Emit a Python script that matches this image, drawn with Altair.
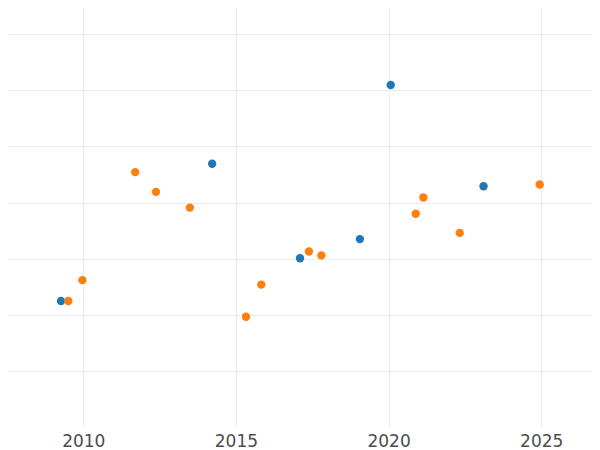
import altair as alt
import pandas as pd

blue_year = [2009.27, 2014.22, 2017.10, 2019.06, 2020.07, 2023.11]
blue_value = [2.25, 4.69, 3.01, 3.35, 6.09, 4.29]

orange_year = [2009.51, 2009.97, 2011.70, 2012.38, 2013.49, 2015.33, 2015.83,
               2017.39, 2017.80, 2020.89, 2021.14, 2022.33, 2024.95]
orange_value = [2.25, 2.62, 4.54, 4.19, 3.91, 1.97, 2.54,
                3.13, 3.06, 3.80, 4.09, 3.46, 4.32]

x_ticks = [2010, 2015, 2020, 2025]
y_grid = [1, 2, 3, 4, 5, 6, 7]

df = pd.concat([
    pd.DataFrame({"year": blue_year, "value": blue_value, "group": "A", "order": 0}),
    pd.DataFrame({"year": orange_year, "value": orange_value, "group": "B", "order": 1}),
], ignore_index=True)

chart = alt.Chart(df).mark_circle(size=70, opacity=1).encode(
    x=alt.X("year:Q",
            scale=alt.Scale(domain=[2007.272, 2026.663], nice=False, zero=False),
            axis=alt.Axis(values=x_ticks, format="d", title=None, ticks=False,
                          domain=False, grid=True, gridColor="#ebebeb", gridWidth=1.2,
                          labelFont="DejaVu Sans", labelFontSize=17,
                          labelColor="#4d4d4d", labelPadding=6)),
    y=alt.Y("value:Q",
            scale=alt.Scale(domain=[0.01, 7.6], nice=False, zero=False),
            axis=alt.Axis(values=y_grid, labels=False, ticks=False, domain=False,
                          title=None, grid=True, gridColor="#ebebeb", gridWidth=1.2)),
    color=alt.Color("group:N",
                    scale=alt.Scale(domain=["A", "B"], range=["#1f77b4", "#ff7f0e"]),
                    legend=None),
    order=alt.Order("order:Q"),
).properties(
    width=592, height=427,
    padding={"left": -8, "top": -8, "right": 0, "bottom": 22},
    autosize=alt.AutoSizeParams(type="none"),
    background="white",
).configure_view(stroke=None)

chart.save("out.html", embed_options={"renderer": "svg", "actions": False})
